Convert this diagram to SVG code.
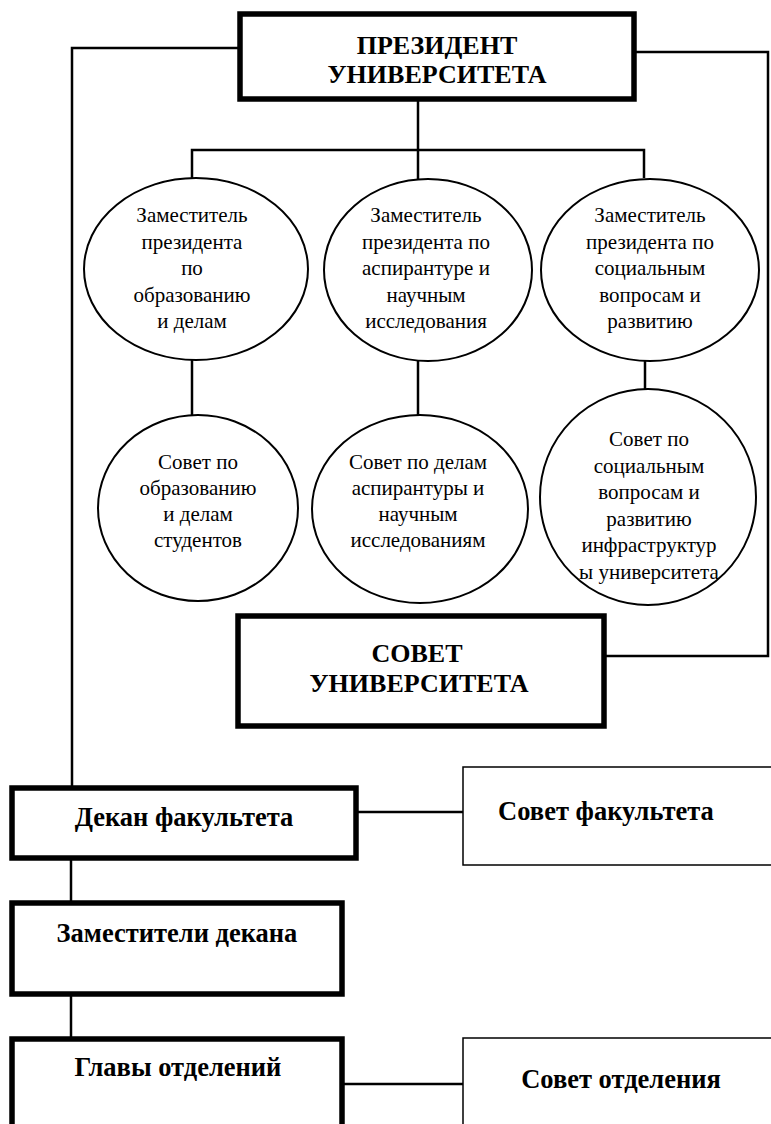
<svg xmlns="http://www.w3.org/2000/svg" width="771" height="1124" viewBox="0 0 771 1124">
<style>
.thick{fill:#fff;stroke:#000;stroke-width:5.5}
.thin{fill:#fff;stroke:#000;stroke-width:1.5}
.ell{fill:#fff;stroke:#000;stroke-width:2}
.ln{fill:none;stroke:#000;stroke-width:2.5}
.b{font-family:"Liberation Serif","Times New Roman",serif;font-weight:bold;text-anchor:middle;fill:#000}
.r{font-family:"Liberation Serif","Times New Roman",serif;font-size:21px;text-anchor:middle;fill:#000}
</style>
<rect width="771" height="1124" fill="#fff"/>
<g id="connectors">
<polyline class="ln" points="238,48 72,48 72,787"/>
<polyline class="ln" points="636,52 768,52 768,656 606,656"/>
<line class="ln" x1="418" y1="100" x2="418" y2="150"/>
<polyline class="ln" points="192,178 192,150 644,150 644,178"/>
<line class="ln" x1="418" y1="150" x2="418" y2="179"/>
<line class="ln" x1="192" y1="360" x2="192" y2="420"/>
<line class="ln" x1="418" y1="361" x2="418" y2="420"/>
<line class="ln" x1="645" y1="361" x2="645" y2="391"/>
<line class="ln" x1="358" y1="812" x2="463" y2="812"/>
<line class="ln" x1="71" y1="860" x2="71" y2="901"/>
<line class="ln" x1="71" y1="996" x2="71" y2="1040"/>
<line class="ln" x1="343" y1="1084" x2="463" y2="1084"/>
</g>
<g id="president">
<rect class="thick" x="240" y="14" width="394" height="85"/>
<text class="b" font-size="26" x="437" y="54">ПРЕЗИДЕНТ</text>
<text class="b" font-size="26" x="437" y="83">УНИВЕРСИТЕТА</text>
</g>
<g id="vp1">
<ellipse class="ell" cx="196" cy="269" rx="112" ry="91"/>
<text class="r" x="192" y="222">Заместитель</text>
<text class="r" x="192" y="248.5">президента</text>
<text class="r" x="192" y="275">по</text>
<text class="r" x="192" y="301.5">образованию</text>
<text class="r" x="192" y="328">и делам</text>
</g>
<g id="vp2">
<ellipse class="ell" cx="428" cy="270" rx="104" ry="91"/>
<text class="r" x="426" y="222">Заместитель</text>
<text class="r" x="426" y="248.5">президента по</text>
<text class="r" x="426" y="275">аспирантуре и</text>
<text class="r" x="426" y="301.5">научным</text>
<text class="r" x="426" y="328">исследования</text>
</g>
<g id="vp3">
<ellipse class="ell" cx="650" cy="270" rx="109" ry="91"/>
<text class="r" x="650" y="222">Заместитель</text>
<text class="r" x="650" y="248.5">президента по</text>
<text class="r" x="650" y="275">социальным</text>
<text class="r" x="650" y="301.5">вопросам и</text>
<text class="r" x="650" y="328">развитию</text>
</g>
<g id="council1">
<ellipse class="ell" cx="198" cy="508" rx="100" ry="93"/>
<text class="r" x="198" y="469">Совет по</text>
<text class="r" x="198" y="495">образованию</text>
<text class="r" x="198" y="521">и делам</text>
<text class="r" x="198" y="547">студентов</text>
</g>
<g id="council2">
<ellipse class="ell" cx="420" cy="509" rx="108" ry="94"/>
<text class="r" x="418" y="469">Совет по делам</text>
<text class="r" x="418" y="495">аспирантуры и</text>
<text class="r" x="418" y="521">научным</text>
<text class="r" x="418" y="547">исследованиям</text>
</g>
<g id="council3">
<ellipse class="ell" cx="648" cy="497" rx="108" ry="108"/>
<text class="r" x="649" y="446">Совет по</text>
<text class="r" x="649" y="472.5">социальным</text>
<text class="r" x="649" y="499">вопросам и</text>
<text class="r" x="649" y="525.5">развитию</text>
<text class="r" x="649" y="552">инфраструктур</text>
<text class="r" x="649" y="578.5">ы университета</text>
</g>
<g id="university-council">
<rect class="thick" x="238" y="616" width="366" height="110"/>
<text class="b" font-size="26" x="417" y="662">СОВЕТ</text>
<text class="b" font-size="26" x="419" y="692">УНИВЕРСИТЕТА</text>
</g>
<g id="dean">
<rect class="thick" x="12" y="788" width="344" height="70"/>
<text class="b" font-size="26.5" x="184" y="826">Декан факультета</text>
</g>
<g id="faculty-council">
<rect class="thin" x="463" y="767" width="320" height="98"/>
<text class="b" font-size="26.5" x="606" y="820">Совет факультета</text>
</g>
<g id="deputy-deans">
<rect class="thick" x="12" y="903" width="330" height="91"/>
<text class="b" font-size="26.5" x="177" y="942">Заместители декана</text>
</g>
<g id="department-heads">
<rect class="thick" x="12" y="1039" width="330" height="100"/>
<text class="b" font-size="26.5" x="178" y="1076">Главы отделений</text>
</g>
<g id="department-council">
<rect class="thin" x="463" y="1038" width="320" height="100"/>
<text class="b" font-size="26.5" x="621" y="1088">Совет отделения</text>
</g>
</svg>
